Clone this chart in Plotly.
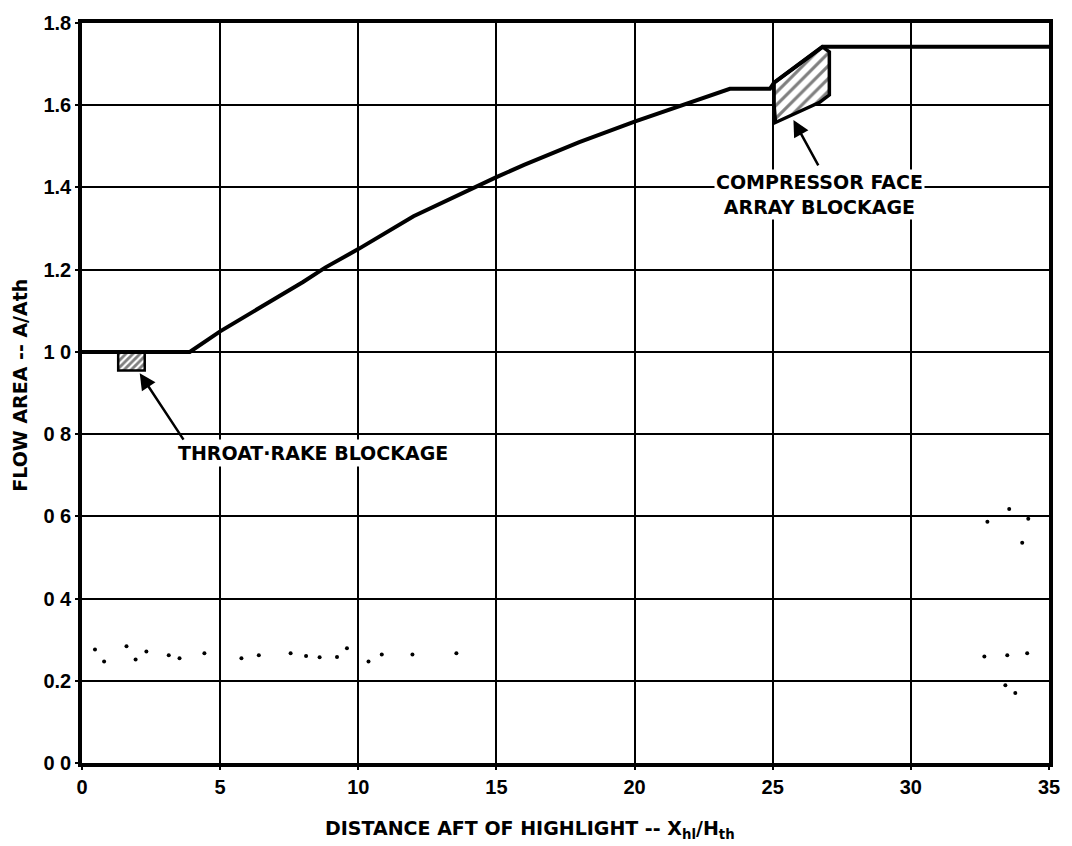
import plotly.graph_objects as go

# ---- data ----
curve_x = [0, 3.9, 5, 6, 7, 8, 8.8, 10, 12, 14, 15, 16, 18, 20, 22, 23.45, 24.9, 25.05, 26.8, 35]
curve_y = [1.0, 1.0, 1.05, 1.09, 1.13, 1.17, 1.205, 1.25, 1.33, 1.395, 1.425, 1.455, 1.51, 1.56, 1.605, 1.64, 1.64, 1.655, 1.742, 1.742]

throat_x = [1.31, 2.27, 2.27, 1.31, 1.31]
throat_y = [0.998, 0.998, 0.955, 0.955, 0.998]

comp_x = [25.05, 26.8, 27.05, 27.05, 26.7, 25.1, 25.05, 25.05]
comp_y = [1.655, 1.742, 1.73, 1.625, 1.607, 1.558, 1.6, 1.655]

speck_x = [0.47, 0.80, 1.61, 1.94, 2.33, 3.14, 3.53,
           4.43, 5.77, 6.40, 7.55, 8.11, 8.60, 9.23, 9.59, 10.37, 10.85, 11.96, 13.55,
           33.56, 32.77, 34.25, 34.03, 32.66, 33.49, 34.21, 33.42, 33.78]
speck_y = [0.276, 0.247, 0.284, 0.252, 0.271, 0.262, 0.255,
           0.267, 0.255, 0.262, 0.267, 0.260, 0.257, 0.258, 0.279, 0.247, 0.264, 0.264, 0.267,
           0.618, 0.587, 0.594, 0.536, 0.259, 0.262, 0.267, 0.189, 0.170]

x_ticks = [0, 5, 10, 15, 20, 25, 30, 35]
y_ticks = [0, 0.2, 0.4, 0.6, 0.8, 1.0, 1.2, 1.4, 1.6, 1.8]
y_tick_text = ["0 0", "0.2", "0 4", "0 6", "0 8", "1 0", "1.2", "1.4", "1.6", "1.8"]

TICKFONT = "Liberation Sans, Arial, sans-serif"
TEXTFONT = "DejaVu Sans, Verdana, sans-serif"

fig = go.Figure()

fig.add_trace(go.Scatter(x=comp_x, y=comp_y, mode="lines", fill="toself",
                         fillpattern=dict(shape="/", fgcolor="black", bgcolor="white", size=9, solidity=0.35),
                         line=dict(color="black", width=3.5), hoverinfo="skip", showlegend=False))
fig.add_trace(go.Scatter(x=throat_x, y=throat_y, mode="lines", fill="toself",
                         fillpattern=dict(shape="/", fgcolor="black", bgcolor="white", size=5, solidity=0.55),
                         line=dict(color="black", width=2.5), hoverinfo="skip", showlegend=False))
fig.add_trace(go.Scatter(x=curve_x, y=curve_y, mode="lines",
                         line=dict(color="black", width=4), showlegend=False))
fig.add_trace(go.Scatter(x=speck_x, y=speck_y, mode="markers",
                         marker=dict(color="black", size=4), showlegend=False))

ann_font = dict(family=TEXTFONT, size=19, color="black", weight="bold")

fig.add_annotation(x=8.35, y=0.754, xref="x", yref="y", text="THROAT·RAKE BLOCKAGE",
                   showarrow=False, bgcolor="white", borderpad=2, font=ann_font)
fig.add_annotation(x=2.09, y=0.948, ax=3.71, ay=0.783, xref="x", yref="y", axref="x", ayref="y",
                   text="", showarrow=True, arrowhead=2, arrowsize=1.3, arrowwidth=2.5, arrowcolor="black")
fig.add_annotation(x=26.68, y=1.382, xref="x", yref="y",
                   text="COMPRESSOR FACE<br>ARRAY BLOCKAGE",
                   showarrow=False, bgcolor="white", borderpad=1, font=ann_font)
fig.add_annotation(x=25.75, y=1.564, ax=26.68, ay=1.45, xref="x", yref="y", axref="x", ayref="y",
                   text="", showarrow=True, arrowhead=2, arrowsize=1.3, arrowwidth=2.5, arrowcolor="black")

fig.add_annotation(x=0.463, y=-0.09, xref="paper", yref="paper", xanchor="center", yanchor="middle",
                   text="DISTANCE AFT OF HIGHLIGHT -- X<sub>hl</sub>/H<sub>th</sub>",
                   showarrow=False, font=ann_font)
fig.add_annotation(x=-0.065, y=0.51, xref="paper", yref="paper", xanchor="center", yanchor="middle",
                   text="FLOW AREA -- A/Ath", textangle=-90,
                   showarrow=False, font=ann_font)

axis_common = dict(showgrid=True, gridcolor="black", gridwidth=2.4, zeroline=False,
                   showline=True, linecolor="black", linewidth=3.5, mirror=True,
                   ticks="outside", ticklen=3, tickwidth=2, tickcolor="black",
                   tickfont=dict(family=TICKFONT, size=20, color="black", weight="bold"))

fig.update_xaxes(range=[0, 35], tickvals=x_ticks, **axis_common)
fig.update_yaxes(range=[0, 1.8], tickvals=y_ticks, ticktext=y_tick_text, **axis_common)

fig.update_layout(width=1072, height=846,
                  margin=dict(l=82, r=18, t=21, b=83),
                  plot_bgcolor="white", paper_bgcolor="white",
                  showlegend=False)

fig.write_html("out.html")
